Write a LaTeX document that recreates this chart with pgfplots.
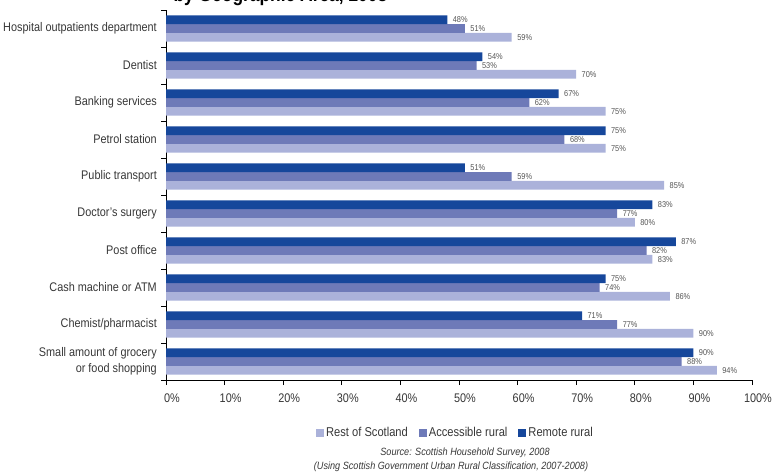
\documentclass[border=0pt]{standalone}
\usepackage{fontspec}
\setmainfont{Liberation Sans}[FakeStretch=0.87]
\usepackage{pgfplots}
\pgfplotsset{compat=1.18}
\definecolor{remote}{RGB}{22,71,155}
\definecolor{access}{RGB}{110,122,184}
\definecolor{rest}{RGB}{171,178,218}
\definecolor{txt}{RGB}{55,55,55}
\definecolor{lbl}{RGB}{85,85,85}
\pgfplotsset{sq legend/.style={legend image code/.code={\fill[##1] (0pt,-4pt) rectangle (8pt,4pt);}}}
\begin{document}
\begin{tikzpicture}[x=1pt,y=1pt]
\useasboundingbox (0,0) rectangle (773,474);
\begin{axis}[
  at={(166pt,94pt)}, anchor=south west,
  scale only axis, width=586pt, height=370pt,
  xbar=0pt, bar width=8.67pt,
  xmin=0, xmax=100, ymin=-0.5, ymax=9.5,
  axis x line*=bottom, axis y line*=left,
  axis line style={black, line width=0.8pt},
  tick align=outside,
  /pgf/number format/assume math mode=true,
  xtick={0,10,...,100},
  xticklabels={0\%,10\%,20\%,30\%,40\%,50\%,60\%,70\%,80\%,90\%,100\%},
  xticklabel style={font=\fontsize{12.5}{14}\selectfont, text=txt, yshift=-5pt, xshift=6pt},
  xtick style={black, line width=0.8pt},
  major tick length=5pt,
  ytick={-0.5,0.5,...,9.5},
  yticklabels={},
  ytick style={black, line width=0.8pt},
  extra y ticks={0,1,2,3,4,5,6,7,8,9},
  extra y tick labels={{Small amount of grocery\\or food shopping},Chemist/pharmacist,Cash machine or ATM,Post office,Doctor's surgery,Public transport,Petrol station,Banking services,Dentist,Hospital outpatients department},
  extra y tick style={tick style={draw=none}, yticklabel style={align=right, font=\fontsize{12.5}{16}\selectfont, text=txt, inner sep=0pt, xshift=-4pt}},
  point meta=x,
  nodes near coords={\pgfmathprintnumber{\pgfplotspointmeta}\%},
  every node near coord/.append style={font=\fontsize{8.5}{9}\selectfont, text=lbl, xshift=2pt},
  legend style={at={(0.494,-0.143)}, anchor=center, draw=none, legend columns=3,
    font=\fontsize{12.8}{14}\selectfont, text=txt,
    /tikz/every even column/.append style={column sep=9pt}},
  legend cell align=left,
]
\addplot[fill=rest, draw=none, sq legend] coordinates {(94,0) (90,1) (86,2) (83,3) (80,4) (85,5) (75,6) (75,7) (70,8) (59,9)};
\addplot[fill=access, draw=none, sq legend] coordinates {(88,0) (77,1) (74,2) (82,3) (77,4) (59,5) (68,6) (62,7) (53,8) (51,9)};
\addplot[fill=remote, draw=none, sq legend] coordinates {(90,0) (71,1) (75,2) (87,3) (83,4) (51,5) (75,6) (67,7) (54,8) (48,9)};
\legend{Rest of Scotland\hspace{22pt},Accessible rural,Remote rural}
\end{axis}
\node[anchor=base west, font=\bfseries\fontsize{20}{22}\selectfont, text=black] at (170,472) {by Geographic Area, 2008};
\node[font=\itshape\fontsize{10.5}{12}\selectfont, text=txt] at (465,21) {Source: Scottish Household Survey, 2008};
\node[font=\itshape\fontsize{10.5}{12}\selectfont, text=txt] at (451,7) {(Using Scottish Government Urban Rural Classification, 2007-2008)};
\end{tikzpicture}
\end{document}
